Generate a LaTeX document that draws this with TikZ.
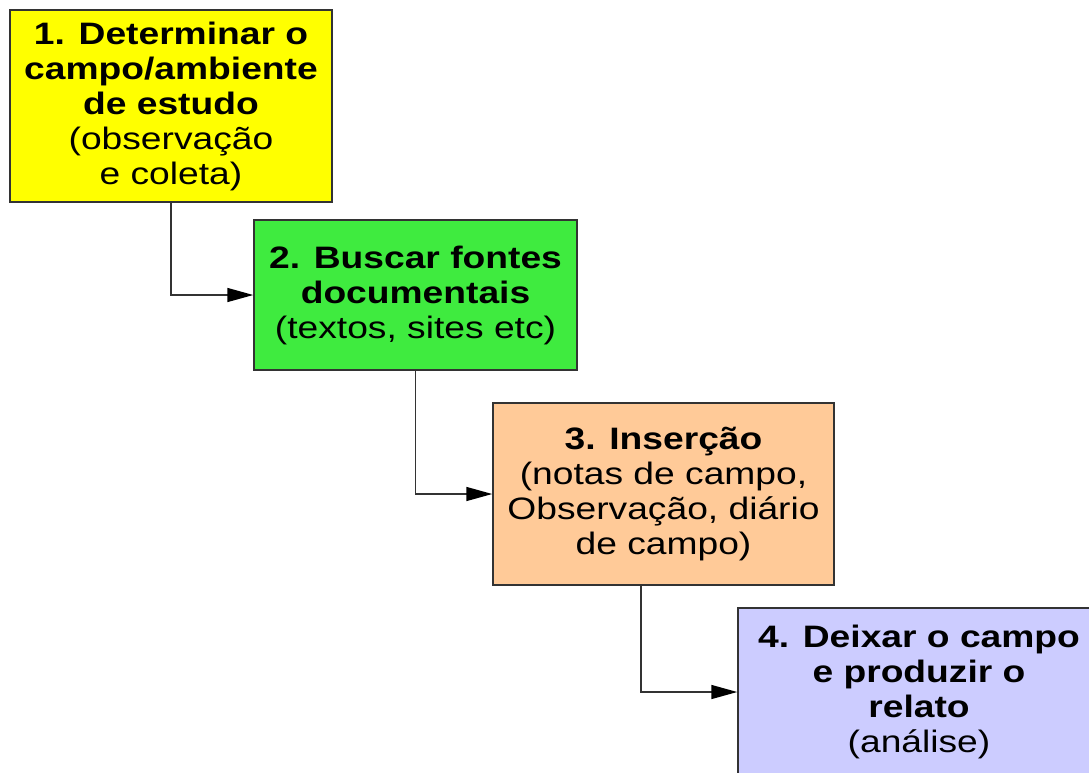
\documentclass[tikz,border=0pt]{standalone}
\usepackage{fontspec}
\setmainfont{Liberation Sans}[FakeStretch=1.2]
\usetikzlibrary{arrows.meta}
\definecolor{cyellow}{HTML}{FFFF00}
\definecolor{cgreen}{HTML}{3FEB3F}
\definecolor{corange}{HTML}{FFCA98}
\definecolor{clav}{HTML}{CCCCFF}
\definecolor{cline}{HTML}{333333}
\begin{document}
\begin{tikzpicture}[x=1pt,y=-1pt,
  stepbox/.style={draw=cline, line width=1.5pt, rectangle, align=center, inner sep=0pt,
    font=\fontsize{31}{35}\selectfont, text=black},
  conn/.style={draw=cline, line width=1.5pt, -{Triangle[length=26pt,width=14pt,fill=black,color=black]}}]
\clip (0,0) rectangle (1089,772);
\fill[white] (0,0) rectangle (1089,772);
\node[stepbox, fill=cyellow, minimum width=322pt, minimum height=192pt] (b1) at (171,106)
  {\textbf{1. Determinar o}\\ \textbf{campo/ambiente}\\ \textbf{de estudo}\\ (observação\\ e coleta)};
\node[stepbox, fill=cgreen, minimum width=323pt, minimum height=150pt] (b2) at (415.5,295)
  {\textbf{2. Buscar fontes}\\ \textbf{documentais}\\ (textos, sites etc)};
\node[stepbox, fill=corange, minimum width=341pt, minimum height=182pt] (b3) at (663.5,494)
  {\textbf{3. Inserção}\\ (notas de campo,\\ Observação, diário\\ de campo)};
\node[stepbox, fill=clav, minimum width=362pt, minimum height=168pt] (b4) at (919,692)
  {\textbf{4. Deixar o campo}\\ \textbf{e produzir o}\\ \textbf{relato}\\ (análise)};
\draw[conn] (b1.south) |- (b2.west);
\draw[conn] (b2.south) |- (b3.west);
\draw[conn] ([xshift=-22.5pt]b3.south) |- (b4.west);
\end{tikzpicture}
\end{document}
